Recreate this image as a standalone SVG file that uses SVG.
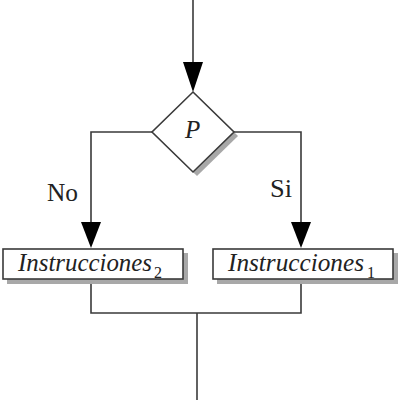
<svg xmlns="http://www.w3.org/2000/svg" width="400" height="400" viewBox="0 0 400 400">
<style>
.ln{fill:none;stroke:#3a3a3a;stroke-width:1.6}
.box{fill:#fff;stroke:#3a3a3a;stroke-width:1.6}
.sh{fill:#a8a8a8;stroke:none}
.t{font-family:"Liberation Serif","DejaVu Serif","Times New Roman",serif;font-size:25px;fill:#222}
.it{font-style:italic}
.sub{font-size:16px}
.ah{fill:#000}
</style>
<rect width="400" height="400" fill="#fff"/>
<g id="connectors">
<line class="ln" x1="193" y1="0" x2="193" y2="70"/>
<polygon class="ah" points="183,62 203,62 193,92"/>
<polyline class="ln" points="153,132 91,132 91,225"/>
<polygon class="ah" points="81,222 101,222 91,248"/>
<polyline class="ln" points="234,132 301,132 301,225"/>
<polygon class="ah" points="291,222 311,222 301,248"/>
<polyline class="ln" points="91,280 91,313 301,313 301,280"/>
<line class="ln" x1="197" y1="313" x2="197" y2="400"/>
<text class="t" x="47" y="201" textLength="31" lengthAdjust="spacingAndGlyphs">No</text>
<text class="t" x="270" y="197" textLength="22" lengthAdjust="spacingAndGlyphs">Si</text>
</g>
<g id="decision">
<polygon class="sh" points="197,96 238,136 197,176 156,136"/>
<polygon class="box" points="193,92 234,132 193,172 152,132"/>
<text class="t it" x="185" y="138">P</text>
</g>
<g id="instr2">
<rect class="sh" x="7" y="253" width="181" height="31"/>
<rect class="box" x="3" y="249" width="180" height="30"/>
<text class="t it" x="18" y="271" textLength="134" lengthAdjust="spacingAndGlyphs">Instrucciones</text>
<text class="t sub" x="154" y="278">2</text>
</g>
<g id="instr1">
<rect class="sh" x="217" y="253" width="181" height="31"/>
<rect class="box" x="213" y="249" width="180" height="30"/>
<text class="t it" x="228" y="271" textLength="136" lengthAdjust="spacingAndGlyphs">Instrucciones</text>
<text class="t sub" x="367" y="278">1</text>
</g>
</svg>
